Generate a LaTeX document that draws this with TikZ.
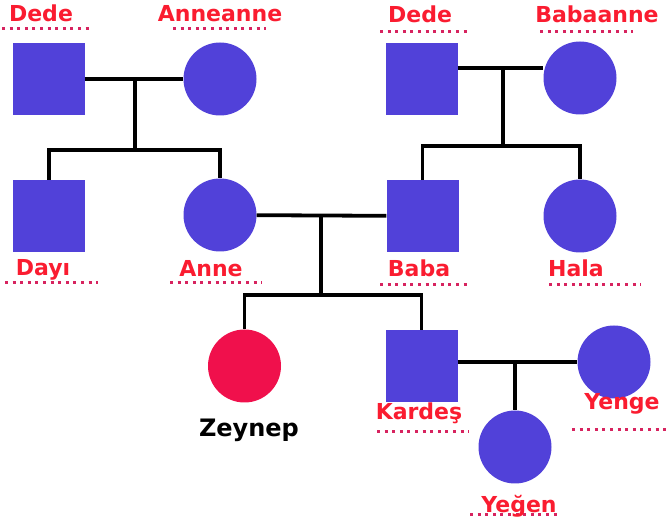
\documentclass[tikz,border=0pt]{standalone}
\usepackage{fontspec}
\setmainfont{DejaVu Sans}
\usepackage{tikz}
\usetikzlibrary{arrows,positioning,shapes}

\definecolor{famblue}{RGB}{81,65,217}
\definecolor{famred}{RGB}{240,16,76}
\definecolor{lblred}{RGB}{250,28,48}
\definecolor{dotred}{RGB}{215,35,95}

\begin{document}
\begin{tikzpicture}[x=1pt,y=-1pt,
  male/.style={rectangle,fill=famblue,minimum size=72,inner sep=0pt},
  female/.style={circle,fill=famblue,minimum size=73,inner sep=0pt},
  lbl/.style={anchor=base,text=lblred,inner sep=0pt,font=\bfseries\fontsize{22}{26}\selectfont},
  underdots/.style={dotred,line width=3,dash pattern=on 3 off 4.6},
  link/.style={black,line width=3.8}]
  \useasboundingbox (0,0) rectangle (667,526);

  % Grandparents
  \node[male] (dedeA) at (48.5,79) {};
  \node[female] (anneanne) at (220,79) {};
  \node[male] (dedeB) at (421.5,79) {};
  \node[female] (babaanne) at (580,78) {};

  % Parents, uncle and aunt
  \node[male] (dayi) at (49,216) {};
  \node[female] (anne) at (220,215) {};
  \node[male] (baba) at (422.5,216) {};
  \node[female] (hala) at (580,216) {};

  % Children
  \node[female,fill=famred] (zeynep) at (244.5,366) {};
  \node[male] (kardes) at (421.5,366) {};
  \node[female] (yenge) at (614,362) {};
  \node[female] (yegen) at (515,447) {};

  % Junction points
  \coordinate (mA) at (135,78);
  \coordinate (sibA) at (135,150);
  \coordinate (mB) at (503,68);
  \coordinate (sibB) at (503,146);
  \coordinate (mC) at (321,215);
  \coordinate (sibC) at (321,295);
  \coordinate (mD) at (515,362);

  % Links
  \draw[link] (dedeA) -- (anneanne);
  \draw[link] (mA) -- (sibA);
  \draw[link] (dayi.north) |- (sibA) -| (anne.north);
  \draw[link] (dedeB.east |- mB) -- (babaanne.west |- mB);
  \draw[link] (mB) -- (sibB);
  \draw[link] (baba.north) |- (sibB) -| (hala.north);
  \draw[link] (anne) -- (baba);
  \draw[link] (mC) -- (sibC);
  \draw[link] (zeynep.north) |- (sibC) -| (kardes.north);
  \draw[link] (kardes.east |- yenge) -- (yenge);
  \draw[link] (mD) -- (yegen.north);

  % Dotted underlines
  \draw[underdots] (2,29) -- (93,29);
  \draw[underdots] (173,29) -- (266,29);
  \draw[underdots] (380,32) -- (471,32);
  \draw[underdots] (540,32) -- (633,32);
  \draw[underdots] (5,283) -- (98,283);
  \draw[underdots] (170,283) -- (262,283);
  \draw[underdots] (380,285) -- (471,285);
  \draw[underdots] (549,285) -- (641,285);
  \draw[underdots] (377,432) -- (469,432);
  \draw[underdots] (572,430) -- (666,430);
  \draw[underdots] (470,514) -- (561,514);

  % Labels
  \node[lbl] (tDedeA) at (41,22) {Dede};
  \node[lbl] (tAnneanne) at (220,22) {Anneanne};
  \node[lbl] (tDedeB) at (420,23) {Dede};
  \node[lbl] (tBabaanne) at (597,23) {Babaanne};
  \node[lbl] (tDayi) at (43,276) {Dayı};
  \node[lbl] (tAnne) at (211,277) {Anne};
  \node[lbl] (tBaba) at (419,277) {Baba};
  \node[lbl] (tHala) at (576,277) {Hala};
  \node[lbl] (tKardes) at (419,420) {Kardeş};
  \node[lbl] (tYenge) at (622,410) {Yenge};
  \node[lbl] (tYegen) at (519,512) {Yeğen};
  \node[lbl,text=black,font=\bfseries\fontsize{24}{28}\selectfont] (tZeynep) at (249,437) {Zeynep};
\end{tikzpicture}
\end{document}
